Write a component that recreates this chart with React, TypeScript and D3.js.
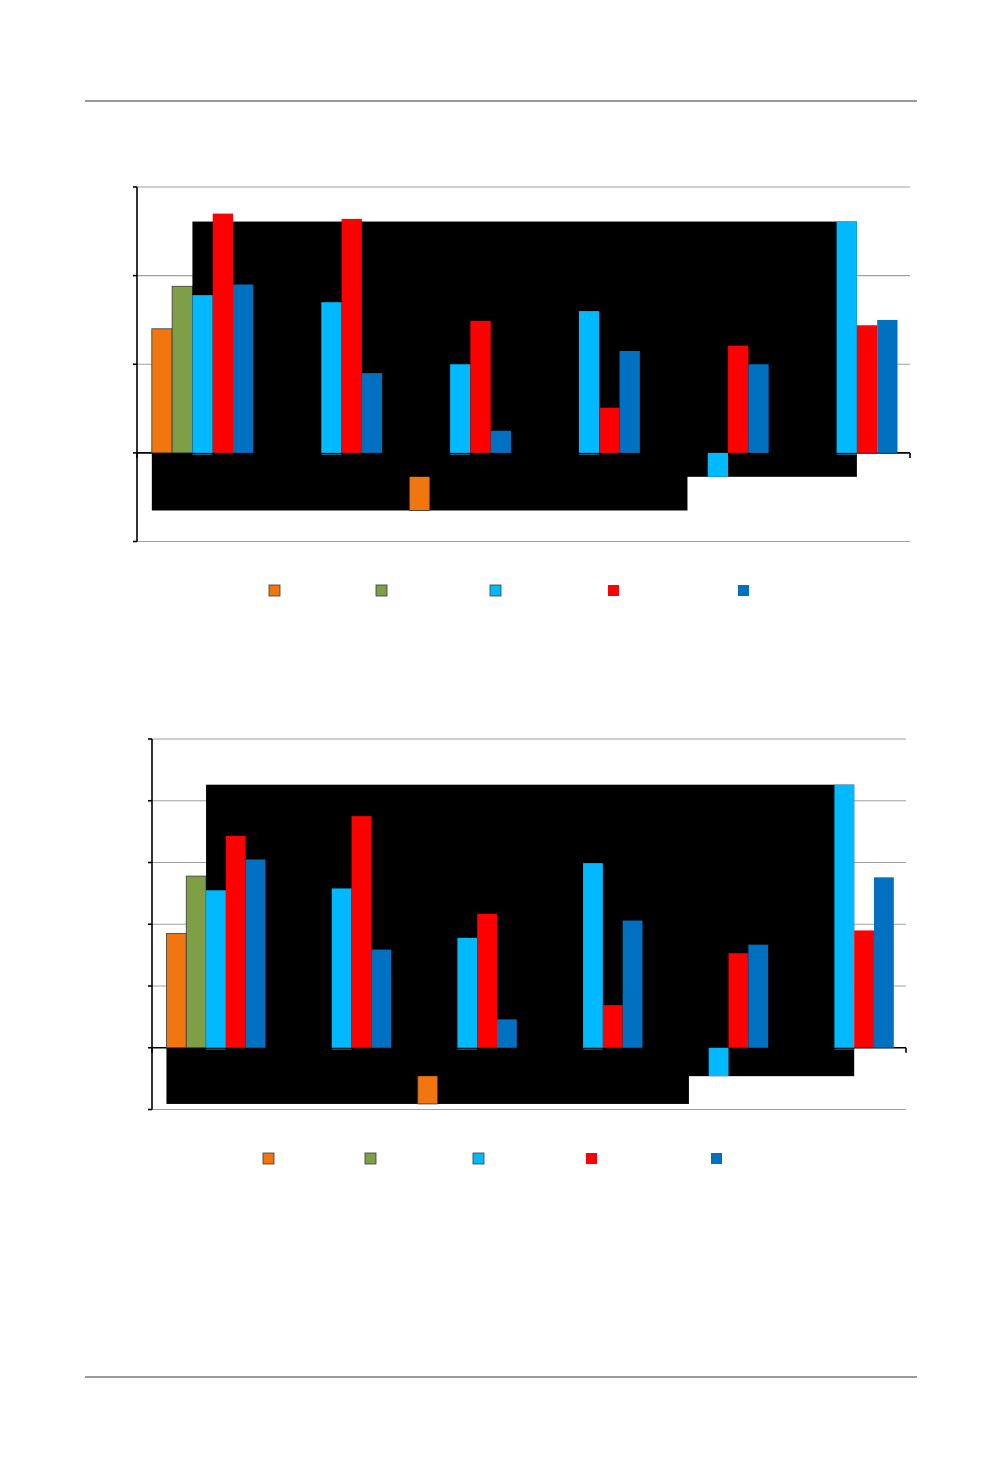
import * as d3 from 'd3';

// categories and series (no visible text in the source picture)
const categories = ['c1', 'c2', 'c3', 'c4', 'c5', 'c6'];
const seriesKeys = ['orange', 'green', 'cyan', 'red', 'blue'];
const seriesColors = ['#F2760F', '#7F9F47', '#00B9FF', '#FF0000', '#0070C0'];

// upper chart values (null = no bar)
const upperOrange = [1.40, null, -0.65, null, 0, null];
const upperGreen = [1.88, null, null, null, null, null];
const upperCyan = [1.78, 1.70, 1.00, 1.60, -0.27, 2.61];
const upperRed = [2.70, 2.64, 1.49, 0.51, 1.21, 1.44];
const upperBlue = [1.90, 0.90, 0.25, 1.15, 1.00, 1.50];
const upperTicks = [-1, 0, 1, 2, 3];

// lower chart values
const lowerOrange = [1.85, null, -0.91, null, 0, null];
const lowerGreen = [2.78, null, null, null, null, null];
const lowerCyan = [2.55, 2.58, 1.78, 2.99, -0.46, 4.26];
const lowerRed = [3.43, 3.75, 2.17, 0.69, 1.53, 1.90];
const lowerBlue = [3.05, 1.59, 0.46, 2.06, 1.67, 2.76];
const lowerTicks = [-1, 0, 1, 2, 3, 4, 5];

type Val = number | null;

interface ChartProps {
  series: Val[][];
  ticks: number[];
  left: number;
  right: number;
  top: number;
  bottom: number;
  legendX: number[];
  legendY: number;
}

function Chart({ series, ticks, left, right, top, bottom, legendX, legendY }: ChartProps) {
  const y = d3.scaleLinear()
    .domain([d3.min(ticks)!, d3.max(ticks)!])
    .range([bottom, top]);
  const x0 = d3.scaleBand().domain(categories).range([left, right]);
  const bw = x0.bandwidth();
  const x1 = d3.scaleBand()
    .domain(seriesKeys)
    .range([bw * 0.115, bw * 0.115 + bw * 0.788]);
  const barW = x1.bandwidth();

  const barX = (ci: number, si: number) => x0(categories[ci])! + x1(seriesKeys[si])!;

  // bounding boxes of the black artefacts: orange series and cyan series
  const orangeIdx = series[0].map((v, i) => (v === null ? -1 : i)).filter(i => i >= 0);
  const orangeMin = d3.min(series[0].filter(v => v !== null) as number[])!;
  const cyanVals = series[2] as number[];
  const mask2 = {
    x: barX(orangeIdx[0], 0),
    w: barX(orangeIdx[orangeIdx.length - 1], 0) + barW - barX(orangeIdx[0], 0),
    y: y(0),
    h: y(orangeMin) - y(0),
  };
  const mask1 = {
    x: barX(0, 2),
    w: barX(categories.length - 1, 2) + barW - barX(0, 2),
    y: y(d3.max(cyanVals)!),
    h: y(d3.min(cyanVals)!) - y(d3.max(cyanVals)!),
  };

  const bars = (si: number) =>
    series[si].map((v, ci) => {
      if (v === null || v === 0) return null;
      const yy = Math.min(y(v), y(0));
      const hh = Math.abs(y(v) - y(0));
      return (
        <rect
          key={`${si}-${ci}`}
          x={barX(ci, si)}
          y={yy}
          width={barW}
          height={hh}
          fill={seriesColors[si]}
          stroke={si < 2 ? '#3a3a3a' : 'none'}
          strokeWidth={si < 2 ? 0.8 : 0}
        />
      );
    });

  const boundaries = d3.range(categories.length + 1).map(i => left + i * bw);

  return (
    <g>
      {/* gridlines */}
      {ticks.filter(t => t !== 0).map(t => (
        <line key={`g${t}`} x1={left} x2={right} y1={y(t)} y2={y(t)} stroke="#a0a0a0" strokeWidth={1.2} />
      ))}
      {/* value axis */}
      <line x1={left} x2={left} y1={top} y2={bottom} stroke="#000" strokeWidth={1.6} />
      {ticks.map(t => (
        <line key={`t${t}`} x1={left - 4} x2={left} y1={y(t)} y2={y(t)} stroke="#000" strokeWidth={1.6} />
      ))}
      {/* category axis */}
      <line x1={left} x2={right} y1={y(0)} y2={y(0)} stroke="#000" strokeWidth={1.6} />
      {boundaries.map((b, i) => (
        <line key={`c${i}`} x1={b} x2={b} y1={y(0)} y2={y(0) + 5} stroke="#000" strokeWidth={1.6} />
      ))}

      <rect x={mask2.x} y={mask2.y} width={mask2.w} height={mask2.h} fill="#000" />
      {bars(0)}
      {bars(1)}
      <rect x={mask1.x} y={mask1.y} width={mask1.w} height={mask1.h} fill="#000" />
      {cyanVals.map((v, ci) =>
        v > 0 ? (
          <line key={`cb${ci}`} x1={barX(ci, 2)} x2={barX(ci, 2) + barW} y1={y(0) + 1.5} y2={y(0) + 1.5} stroke="#2b6485" strokeWidth={1} />
        ) : null
      )}
      {bars(2)}
      {bars(3)}
      {bars(4)}

      {/* legend swatches */}
      {seriesKeys.map((k, si) => (
        <rect
          key={`l${k}`}
          x={legendX[si]}
          y={legendY}
          width={11}
          height={11}
          fill={seriesColors[si]}
          stroke={si < 3 ? '#3a3a3a' : 'none'}
          strokeWidth={si < 3 ? 0.8 : 0}
        />
      ))}
    </g>
  );
}

export default function App() {
  return (
    <svg
      width={1002}
      height={1475}
      style={{ position: 'absolute', left: 0, top: 0, background: '#fff' }}
    >
      <rect width={1002} height={1475} fill="#fff" />
      <line x1={85} x2={917} y1={101} y2={101} stroke="#333" strokeWidth={1} />
      <line x1={85} x2={917} y1={1377} y2={1377} stroke="#333" strokeWidth={1} />
      <Chart
        series={[upperOrange, upperGreen, upperCyan, upperRed, upperBlue]}
        ticks={upperTicks}
        left={137}
        right={910}
        top={187}
        bottom={541.5}
        legendX={[269, 376, 490, 608, 738]}
        legendY={585}
      />
      <Chart
        series={[lowerOrange, lowerGreen, lowerCyan, lowerRed, lowerBlue]}
        ticks={lowerTicks}
        left={152}
        right={906}
        top={739}
        bottom={1109.5}
        legendX={[263, 365, 473, 586, 711]}
        legendY={1153}
      />
    </svg>
  );
}
